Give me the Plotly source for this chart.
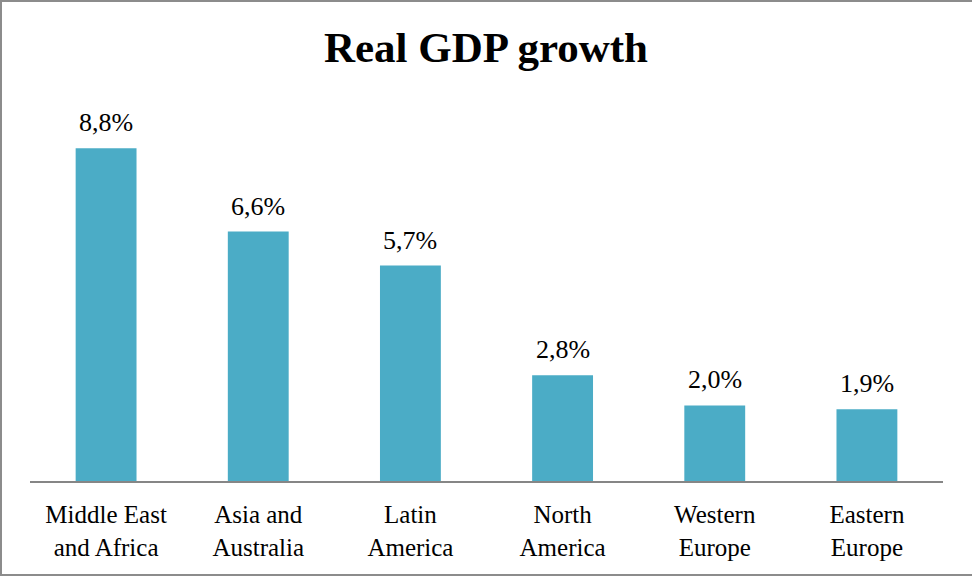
import plotly.graph_objects as go

# Regions and their real GDP growth (%)
regions = ["Middle East<br>and Africa", "Asia and<br>Australia", "Latin<br>America",
           "North<br>America", "Western<br>Europe", "Eastern<br>Europe"]
growth = [8.8, 6.6, 5.7, 2.8, 2.0, 1.9]
labels = [f"{v:.1f}%".replace(".", ",") for v in growth]

SERIF = "Times New Roman, Liberation Serif, serif"

W, H = 972, 577
ML, MR, MT, MB = 30, 29, 103, 96
pw = W - ML - MR
ph = H - MT - MB

fig = go.Figure()
fig.add_trace(go.Bar(
    x=regions, y=growth,
    marker=dict(color="#4BACC6", line=dict(width=0)),
    width=0.4,
    hoverinfo="skip",
))

# value labels above bars
for r, v, t in zip(regions, growth, labels):
    fig.add_annotation(x=r, y=v, text=t, showarrow=False,
                       yanchor="bottom", yshift=9,
                       font=dict(family=SERIF, size=26, color="black"))

# outer chart frame
fig.add_shape(type="rect", xref="paper", yref="paper",
              x0=(1 - ML) / pw, x1=(W + 3 - ML) / pw,
              y0=(ph + MT - (H - 2)) / ph, y1=(ph + MT - 1) / ph,
              line=dict(color="#8c8c8c", width=2), fillcolor="rgba(0,0,0,0)",
              layer="above")

fig.update_layout(
    width=W, height=H,
    margin=dict(l=ML, r=MR, t=MT, b=MB, autoexpand=False),
    paper_bgcolor="white", plot_bgcolor="white",
    title=dict(text="<b>Real GDP growth</b>", x=0.5, xanchor="center",
               y=1 - 47 / H, yanchor="middle",
               font=dict(family=SERIF, size=43, color="black")),
    xaxis=dict(showline=True, linecolor="#868686", linewidth=2,
               ticks="outside", ticklen=10, tickcolor="rgba(0,0,0,0)",
               tickfont=dict(family=SERIF, size=25, color="black"),
               showgrid=False, zeroline=False, automargin=False),
    yaxis=dict(range=[0, 10], visible=False, showgrid=False, zeroline=False,
               automargin=False),
    showlegend=False,
    bargap=0.6,
)

fig.write_html("out.html")
